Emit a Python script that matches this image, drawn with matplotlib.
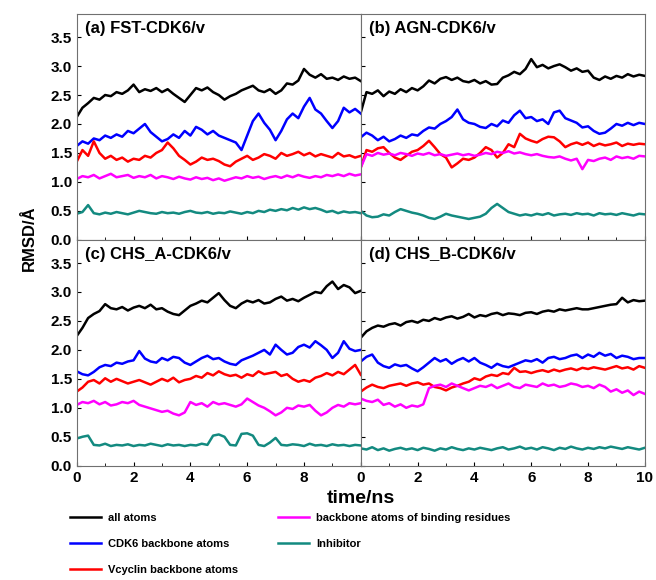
import matplotlib
matplotlib.use("Agg")
import matplotlib.pyplot as plt
import numpy as np

plt.rcParams['font.family'] = ['Liberation Sans', 'DejaVu Sans']
plt.rcParams['font.weight'] = 'bold'

# series labels and colours
names = ["all atoms", "CDK6 backbone atoms", "Vcyclin backbone atoms",
         "backbone atoms of binding residues", "Inhibitor"]
colors = ["black", "#0000ff", "#ff0000", "#ff00ff", "#138a80"]
panel_titles = ["(a) FST-CDK6/v", "(b) AGN-CDK6/v", "(c) CHS_A-CDK6/v", "(d) CHS_B-CDK6/v"]

# RMSD values, one sample every 0.2 ns (0..10 ns)
a_all = [2.12,2.28,2.36,2.45,2.42,2.50,2.48,2.55,2.52,2.58,2.68,2.55,2.60,2.57,2.62,2.55,2.60,2.52,2.45,2.38,2.50,2.62,2.58,2.63,2.55,2.50,2.42,2.48,2.52,2.58,2.62,2.66,2.58,2.55,2.60,2.52,2.58,2.70,2.68,2.75,2.95,2.85,2.80,2.86,2.78,2.80,2.76,2.82,2.78,2.80,2.74]
a_cdk6 = [1.62,1.70,1.66,1.75,1.72,1.80,1.76,1.82,1.78,1.88,1.84,1.92,2.00,1.86,1.78,1.70,1.74,1.82,1.76,1.88,1.80,1.95,1.90,1.82,1.88,1.80,1.76,1.72,1.68,1.55,1.80,2.05,2.18,2.02,1.90,1.72,1.88,2.08,2.18,2.10,2.30,2.45,2.25,2.18,2.05,1.93,2.05,2.28,2.20,2.26,2.18]
a_vcyc = [1.35,1.55,1.45,1.70,1.50,1.40,1.45,1.38,1.42,1.35,1.40,1.38,1.45,1.42,1.50,1.55,1.68,1.58,1.45,1.38,1.30,1.35,1.42,1.38,1.40,1.36,1.30,1.27,1.35,1.40,1.45,1.38,1.42,1.48,1.45,1.40,1.50,1.45,1.48,1.52,1.46,1.50,1.44,1.48,1.45,1.42,1.50,1.44,1.46,1.42,1.45]
a_bind = [1.05,1.10,1.08,1.12,1.06,1.10,1.14,1.08,1.10,1.12,1.07,1.10,1.08,1.12,1.06,1.10,1.08,1.05,1.09,1.06,1.04,1.08,1.05,1.07,1.03,1.06,1.02,1.05,1.08,1.06,1.10,1.07,1.09,1.05,1.08,1.10,1.07,1.11,1.08,1.12,1.09,1.07,1.10,1.08,1.12,1.10,1.13,1.10,1.14,1.11,1.13]
a_inh = [0.45,0.48,0.60,0.46,0.44,0.47,0.45,0.48,0.46,0.44,0.47,0.50,0.48,0.46,0.45,0.48,0.46,0.47,0.45,0.48,0.50,0.47,0.46,0.48,0.45,0.47,0.46,0.49,0.47,0.45,0.48,0.46,0.50,0.48,0.52,0.50,0.53,0.51,0.55,0.52,0.56,0.53,0.55,0.52,0.48,0.50,0.46,0.49,0.47,0.48,0.46]

b_all = [2.20,2.55,2.52,2.58,2.48,2.56,2.52,2.60,2.55,2.62,2.58,2.65,2.75,2.70,2.78,2.81,2.76,2.80,2.74,2.72,2.76,2.70,2.74,2.68,2.69,2.80,2.84,2.90,2.86,2.95,3.12,2.98,3.02,2.96,3.00,3.03,2.98,2.92,2.96,2.90,2.92,2.80,2.76,2.82,2.78,2.83,2.80,2.86,2.82,2.85,2.83]
b_cdk6 = [1.77,1.85,1.80,1.72,1.78,1.70,1.74,1.80,1.76,1.82,1.80,1.88,1.94,1.92,2.00,2.05,2.12,2.25,2.08,2.02,2.00,1.95,1.93,2.00,1.96,2.06,2.02,2.15,2.23,2.10,2.12,2.05,2.08,2.00,2.20,2.23,2.10,2.06,2.02,1.94,1.96,1.88,1.83,1.85,1.92,2.00,1.97,2.02,1.98,2.02,2.00]
b_vcyc = [1.25,1.55,1.52,1.58,1.60,1.50,1.42,1.38,1.45,1.52,1.55,1.62,1.71,1.60,1.48,1.42,1.25,1.32,1.40,1.38,1.42,1.50,1.60,1.55,1.42,1.50,1.65,1.60,1.83,1.75,1.71,1.68,1.74,1.78,1.77,1.70,1.60,1.65,1.68,1.64,1.68,1.62,1.66,1.63,1.65,1.68,1.62,1.66,1.64,1.66,1.65]
b_bind = [1.25,1.48,1.45,1.50,1.47,1.49,1.46,1.50,1.48,1.45,1.49,1.47,1.50,1.46,1.48,1.45,1.47,1.49,1.46,1.48,1.45,1.47,1.50,1.48,1.52,1.50,1.53,1.49,1.51,1.48,1.46,1.48,1.45,1.43,1.42,1.44,1.40,1.37,1.40,1.22,1.38,1.36,1.40,1.42,1.38,1.44,1.41,1.43,1.40,1.45,1.44]
b_inh = [0.50,0.42,0.39,0.40,0.44,0.42,0.48,0.53,0.50,0.47,0.45,0.42,0.38,0.36,0.40,0.45,0.42,0.40,0.38,0.36,0.38,0.40,0.45,0.55,0.62,0.55,0.48,0.45,0.42,0.44,0.42,0.45,0.43,0.46,0.42,0.44,0.45,0.43,0.46,0.44,0.45,0.42,0.46,0.44,0.45,0.43,0.46,0.44,0.42,0.45,0.44]

c_all = [2.24,2.38,2.55,2.62,2.67,2.79,2.72,2.70,2.74,2.68,2.73,2.76,2.72,2.78,2.70,2.72,2.66,2.62,2.60,2.68,2.76,2.80,2.85,2.82,2.90,2.98,2.86,2.76,2.72,2.80,2.85,2.82,2.86,2.80,2.82,2.88,2.92,2.85,2.88,2.84,2.90,2.95,3.00,2.98,3.10,3.18,3.05,3.12,3.08,2.98,3.02]
c_cdk6 = [1.63,1.58,1.56,1.62,1.70,1.74,1.72,1.78,1.76,1.80,1.82,1.98,1.85,1.80,1.78,1.86,1.82,1.88,1.86,1.78,1.74,1.80,1.86,1.90,1.84,1.86,1.80,1.76,1.74,1.82,1.86,1.90,1.95,2.00,1.92,2.09,2.00,1.92,1.95,2.05,2.09,2.04,2.15,2.08,2.00,1.86,1.95,2.15,2.02,1.98,2.00]
c_vcyc = [1.28,1.35,1.45,1.48,1.42,1.51,1.45,1.50,1.46,1.42,1.45,1.48,1.44,1.40,1.45,1.50,1.46,1.52,1.44,1.48,1.50,1.55,1.52,1.60,1.56,1.63,1.58,1.55,1.57,1.52,1.58,1.55,1.63,1.58,1.60,1.62,1.55,1.58,1.50,1.45,1.48,1.45,1.52,1.55,1.60,1.56,1.62,1.58,1.66,1.74,1.57]
c_bind = [1.05,1.10,1.08,1.12,1.06,1.10,1.04,1.06,1.10,1.08,1.12,1.05,1.02,0.99,0.96,0.93,0.95,0.90,0.87,0.92,1.10,1.05,1.08,1.02,1.10,1.06,1.08,1.05,1.02,1.06,1.16,1.10,1.04,1.00,0.94,0.87,0.92,1.00,0.98,1.04,1.02,1.05,0.95,0.87,0.92,1.00,1.05,1.02,1.08,1.06,1.08]
c_inh = [0.47,0.50,0.52,0.36,0.35,0.38,0.34,0.36,0.35,0.37,0.34,0.36,0.35,0.38,0.36,0.34,0.37,0.35,0.36,0.34,0.36,0.35,0.38,0.36,0.52,0.54,0.50,0.36,0.35,0.55,0.56,0.52,0.36,0.34,0.40,0.48,0.36,0.35,0.37,0.36,0.34,0.38,0.35,0.36,0.34,0.37,0.35,0.36,0.34,0.36,0.35]

d_all = [2.21,2.32,2.38,2.42,2.40,2.44,2.46,2.42,2.48,2.50,2.47,2.52,2.50,2.55,2.52,2.56,2.58,2.54,2.57,2.62,2.56,2.60,2.58,2.62,2.64,2.60,2.63,2.62,2.60,2.64,2.65,2.62,2.66,2.68,2.66,2.70,2.68,2.70,2.72,2.70,2.70,2.72,2.74,2.76,2.78,2.79,2.90,2.82,2.86,2.84,2.85]
d_cdk6 = [1.80,1.88,1.92,1.78,1.72,1.69,1.75,1.72,1.74,1.68,1.63,1.70,1.78,1.86,1.80,1.84,1.76,1.82,1.86,1.80,1.86,1.78,1.74,1.69,1.76,1.72,1.70,1.74,1.78,1.82,1.80,1.84,1.78,1.86,1.88,1.84,1.86,1.90,1.92,1.86,1.92,1.88,1.95,1.90,1.93,1.86,1.90,1.88,1.84,1.86,1.86]
d_vcyc = [1.28,1.35,1.40,1.36,1.34,1.38,1.40,1.42,1.38,1.42,1.44,1.40,1.42,1.36,1.34,1.30,1.35,1.38,1.42,1.45,1.51,1.48,1.54,1.57,1.55,1.60,1.58,1.69,1.62,1.63,1.60,1.63,1.65,1.62,1.66,1.63,1.66,1.68,1.65,1.69,1.67,1.70,1.68,1.66,1.69,1.72,1.68,1.70,1.66,1.72,1.69]
d_bind = [1.16,1.12,1.10,1.14,1.05,1.08,1.02,1.06,1.00,1.04,1.02,1.06,1.34,1.38,1.40,1.36,1.42,1.38,1.34,1.30,1.34,1.38,1.36,1.40,1.34,1.38,1.42,1.36,1.34,1.40,1.38,1.36,1.42,1.38,1.40,1.36,1.38,1.42,1.40,1.36,1.38,1.34,1.40,1.36,1.28,1.32,1.26,1.30,1.22,1.28,1.24]
d_inh = [0.30,0.28,0.32,0.27,0.30,0.26,0.29,0.31,0.28,0.30,0.27,0.31,0.29,0.26,0.30,0.28,0.32,0.29,0.27,0.30,0.28,0.31,0.29,0.27,0.30,0.32,0.28,0.30,0.33,0.29,0.31,0.28,0.32,0.30,0.27,0.31,0.29,0.33,0.30,0.28,0.31,0.29,0.32,0.30,0.33,0.31,0.29,0.32,0.30,0.28,0.31]

panels = [
    [a_all, a_cdk6, a_vcyc, a_bind, a_inh],
    [b_all, b_cdk6, b_vcyc, b_bind, b_inh],
    [c_all, c_cdk6, c_vcyc, c_bind, c_inh],
    [d_all, d_cdk6, d_vcyc, d_bind, d_inh],
]

xticks = [0, 2, 4, 6, 8, 10]
yticks = np.arange(0, 3.6, 0.5)

fig, axes = plt.subplots(2, 2, figsize=(6.56, 5.8), dpi=100)
fig.subplots_adjust(left=0.117, right=0.983, top=0.976, bottom=0.197, hspace=0, wspace=0)

for k, ax in enumerate(axes.flat):
    for series, name, col in zip(panels[k], names, colors):
        t = np.linspace(0, 10, len(series))
        ax.plot(t, series, color=col, lw=1.8, label=name)
    ax.set_xlim(0, 10)
    ax.set_ylim(0, 3.9)
    ax.set_xticks(xticks)
    ax.set_xticks([1, 3, 5, 7, 9], minor=True)
    ax.set_yticks(yticks)
    ax.tick_params(direction='in', labelsize=11, length=3)
    ax.tick_params(which='minor', direction='in', length=2)
    for s in ax.spines.values():
        s.set_color('#707070')
    ax.text(0.03, 0.97, panel_titles[k], transform=ax.transAxes, fontsize=12,
            fontweight='bold', va='top', ha='left')

# tick labels only on the outer edges
for ax in axes[0, :]:
    ax.set_xticklabels([])
for ax in axes[:, 1]:
    ax.set_yticklabels([])
for ax in axes[:, 0]:
    ax.set_yticklabels(["%.1f" % v for v in yticks])
axes[1, 0].set_xticklabels(["0", "2", "4", "6", "8", ""])
axes[1, 1].set_xticklabels(["0", "2", "4", "6", "8", "10"])

fig.text(0.045, 0.59, "RMSD/Å", rotation=90, ha='center', va='center', fontsize=12, fontweight='bold')
fig.text(0.55, 0.14, "time/ns", ha='center', va='center', fontsize=14, fontweight='bold')

handles, labels = axes[0, 0].get_legend_handles_labels()
fig.legend(handles, labels, ncol=2, loc='upper left', bbox_to_anchor=(0.092, 0.133),
           frameon=False, prop={'size': 8, 'weight': 'bold'}, handlelength=2.8,
           columnspacing=3.6, labelspacing=1.45, handletextpad=0.6)

fig.savefig("out.png", dpi=100)
